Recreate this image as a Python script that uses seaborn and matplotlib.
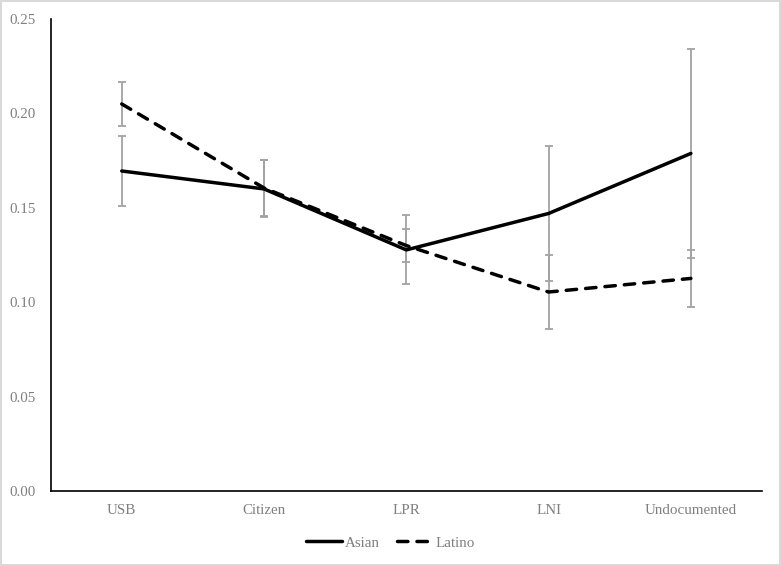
import numpy as np
import pandas as pd
import matplotlib
matplotlib.use("Agg")
import matplotlib.pyplot as plt
import seaborn as sns
from matplotlib.lines import Line2D

categories = ["USB", "Citizen", "LPR", "LNI", "Undocumented"]
asian_vals = [0.1695, 0.1600, 0.1277, 0.1470, 0.1788]
asian_err = [0.0188, 0.0151, 0.0183, 0.0358, 0.0553]
latino_vals = [0.2050, 0.1605, 0.1300, 0.1054, 0.1126]
latino_err = [0.0115, 0.0146, 0.0087, 0.0196, 0.0152]
yticks = [0.00, 0.05, 0.10, 0.15, 0.20, 0.25]

sns.set_theme(style="white")
plt.rcParams['font.family'] = ['Liberation Serif', 'DejaVu Serif']

df = pd.DataFrame({
    "cat": categories * 2,
    "val": asian_vals + latino_vals,
    "group": ["Asian"] * 5 + ["Latino"] * 5,
})

fig = plt.figure(figsize=(7.81, 5.66), dpi=100)
fig.patch.set_edgecolor("#d9d9d9")
fig.patch.set_linewidth(1.5)
ax = fig.add_axes([0.0648, 0.1325, 0.9109, 0.8339])

x = np.arange(len(categories))
ecol = "#a3a3a3"
ax.errorbar(x, asian_vals, yerr=asian_err, fmt="none", ecolor=ecol,
            elinewidth=1.3, capsize=3, capthick=1.3, zorder=1)
ax.errorbar(x, latino_vals, yerr=latino_err, fmt="none", ecolor=ecol,
            elinewidth=1.3, capsize=3, capthick=1.3, zorder=1)

sns.lineplot(data=df, x="cat", y="val", hue="group", style="group",
             palette={"Asian": "black", "Latino": "black"},
             dashes={"Asian": "", "Latino": (3.0, 2.6)},
             linewidth=2.5, ax=ax, legend=False, zorder=3, sort=False)
for ln in ax.get_lines():
    ln.set_dash_capstyle("round")

ax.set_xlim(-0.5, 4.5)
ax.set_ylim(0, 0.25)
ax.set_yticks(yticks)
ax.set_yticklabels([f"{v:.2f}" for v in yticks])
ax.set_xticks(x)
ax.set_xticklabels(categories)
ax.set_xlabel("")
ax.set_ylabel("")
ax.tick_params(axis="both", length=0, labelsize=10.8, labelcolor="#7f7f7f")
ax.tick_params(axis="y", pad=11)
ax.tick_params(axis="x", pad=9)
for s in ["top", "right"]:
    ax.spines[s].set_visible(False)
for s in ["left", "bottom"]:
    ax.spines[s].set_color("black")
    ax.spines[s].set_linewidth(1.2)
ax.grid(False)

handles = [Line2D([0], [0], color="black", lw=2.5),
           Line2D([0], [0], color="black", lw=2.5, dashes=(3.0, 2.6),
                  dash_capstyle="round")]
leg = fig.legend(handles, ["Asian", "Latino"], loc="center",
                 bbox_to_anchor=(0.5, 0.041), ncol=2, frameon=False,
                 fontsize=10.8, handlelength=2.4, handletextpad=0.2,
                 columnspacing=1.1)
for t in leg.get_texts():
    t.set_color("#7f7f7f")

fig.savefig("out.png", dpi=100)
